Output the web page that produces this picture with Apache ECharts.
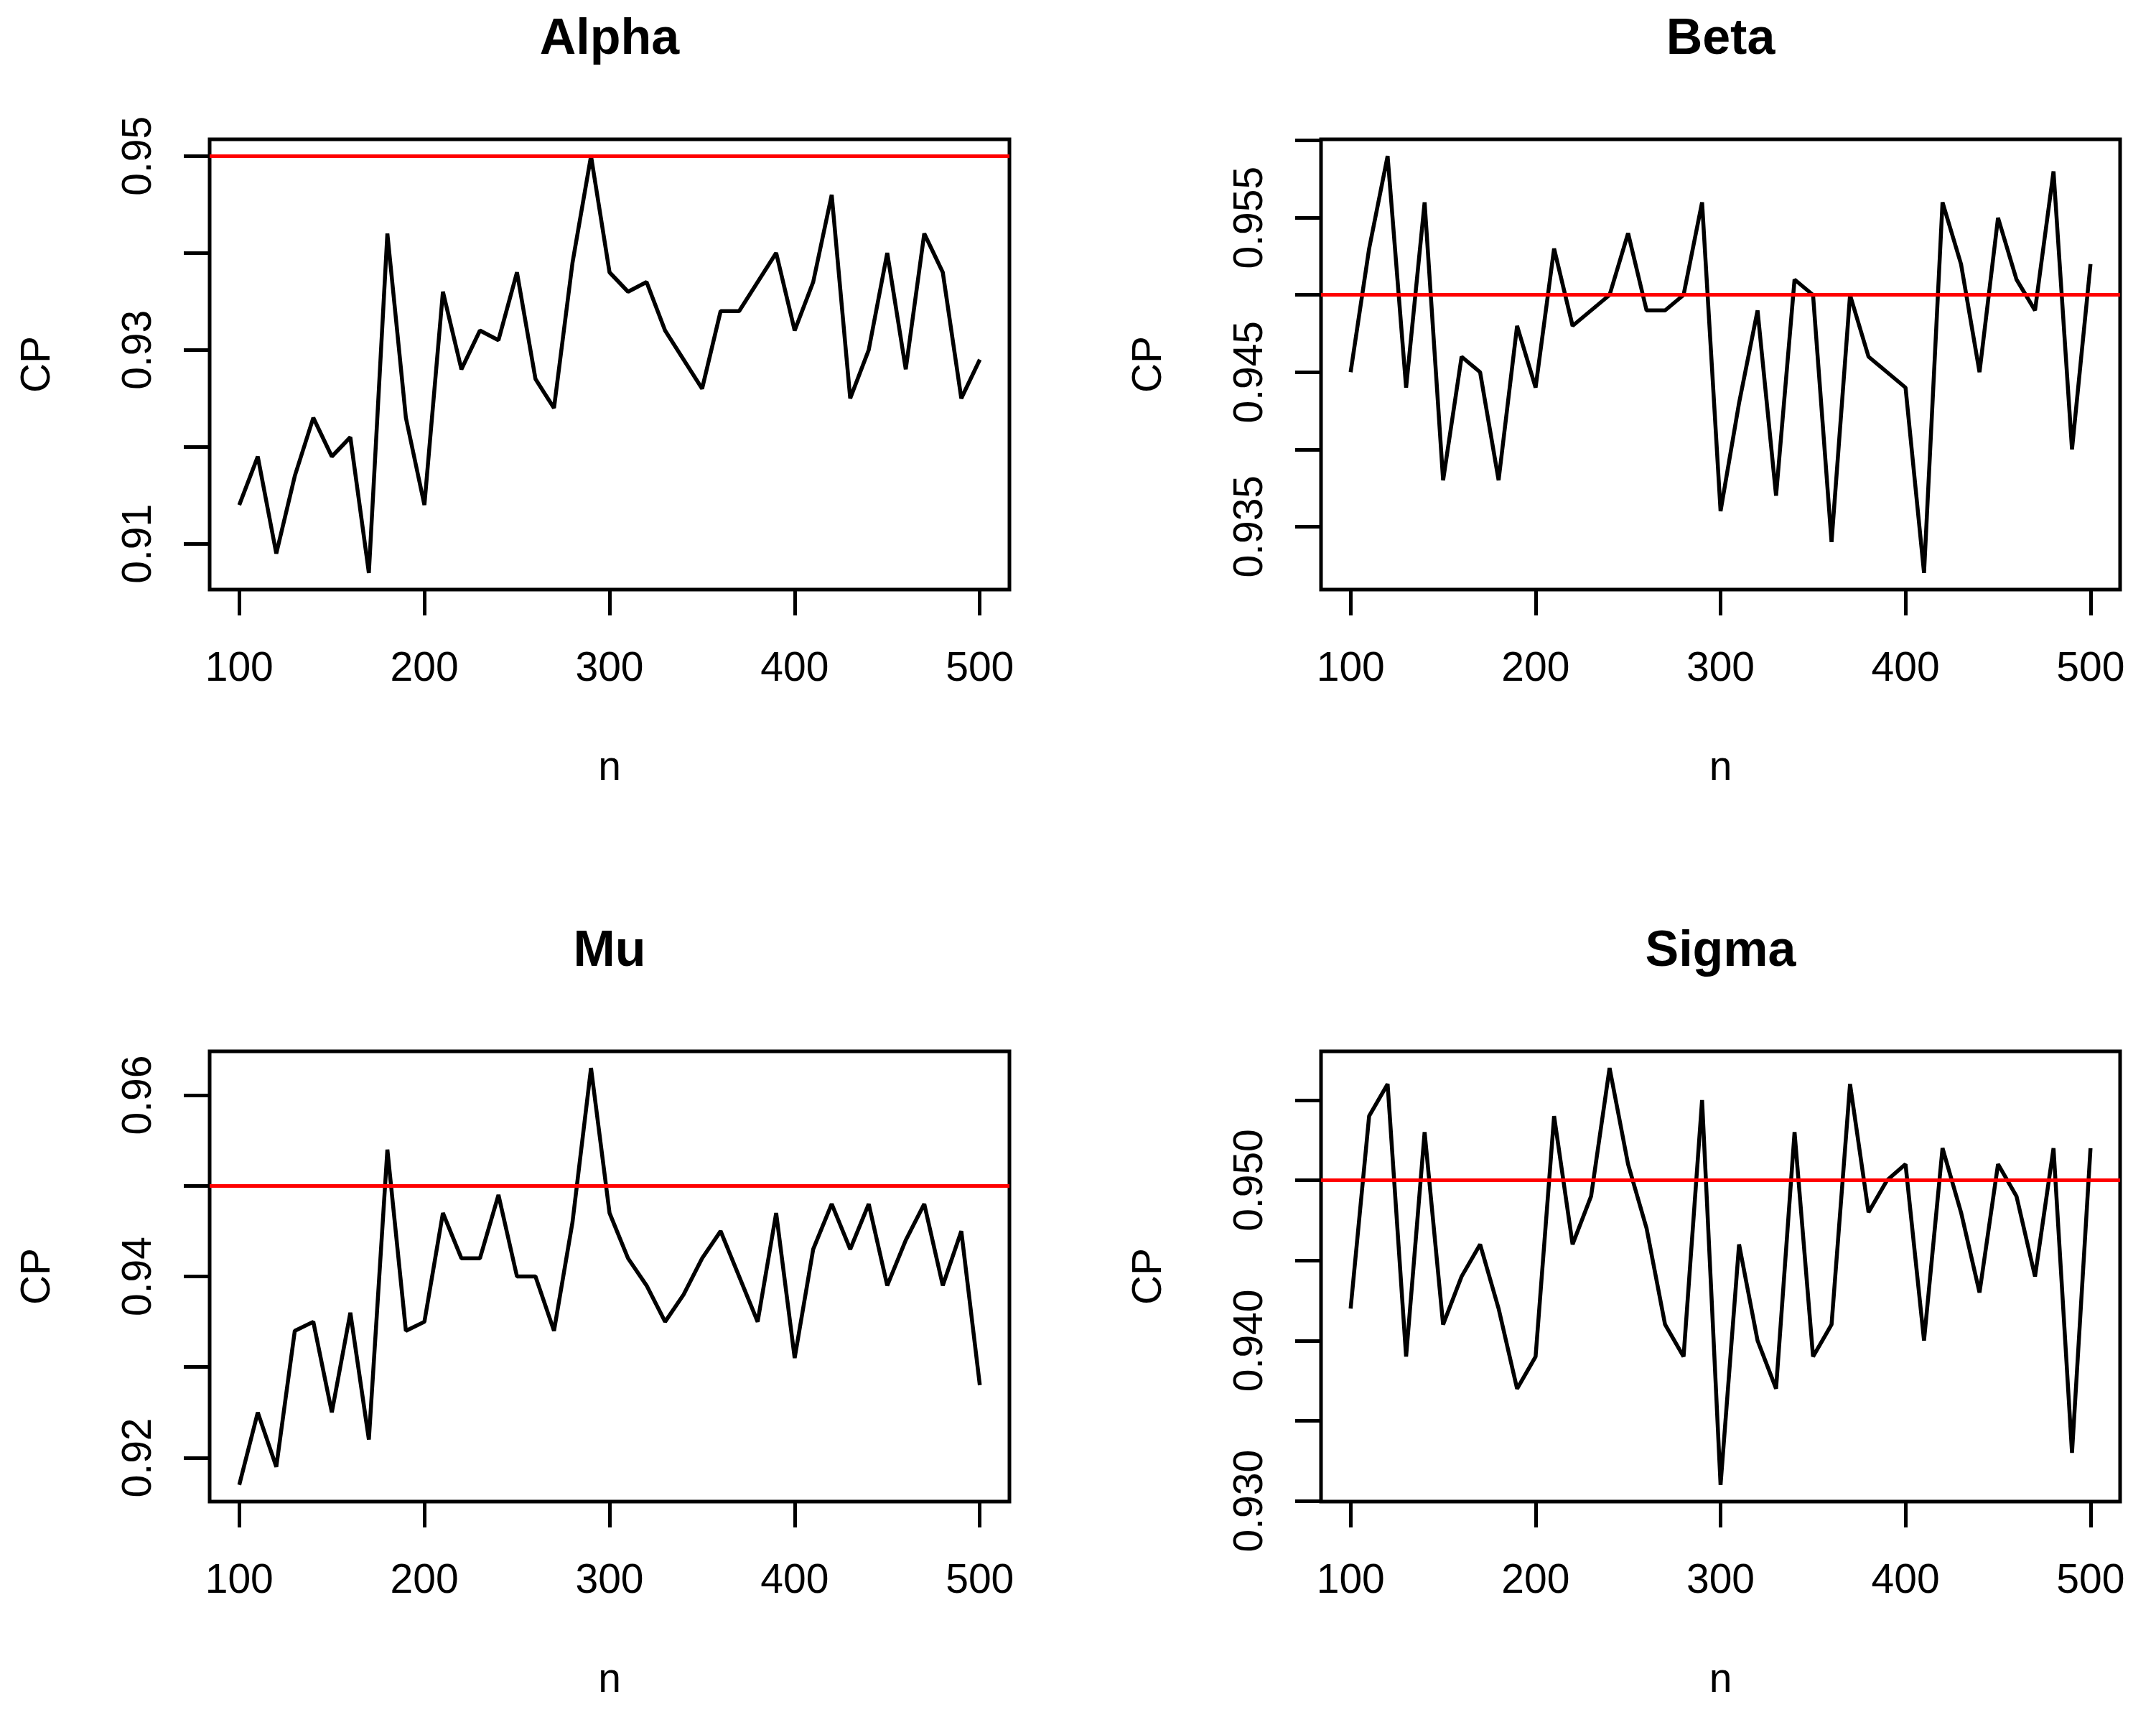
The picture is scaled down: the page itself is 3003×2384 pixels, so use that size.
<!DOCTYPE html>
<html>
<head>
<meta charset="utf-8">
<script src="https://cdn.jsdelivr.net/npm/echarts@6/dist/echarts.min.js"></script>
<style>
html,body{margin:0;padding:0;background:#fff;}
#chart{width:3003px;height:2384px;}
</style>
</head>
<body>
<div id="chart"></div>
<script>
// ---- data ----
const nValues = [100,110,120,130,140,150,160,170,180,190,200,210,220,230,240,250,260,270,280,290,300,
                 310,320,330,340,350,360,370,380,390,400,410,420,430,440,450,460,470,480,490,500];

const alphaCP = [0.914,0.919,0.909,0.917,0.923,0.919,0.921,0.907,0.942,0.923,0.914,0.936,0.928,0.932,0.931,0.938,0.927,0.924,0.939,0.950,0.938,
                 0.936,0.937,0.932,0.929,0.926,0.934,0.934,0.937,0.940,0.932,0.937,0.946,0.925,0.930,0.940,0.928,0.942,0.938,0.925,0.929];
const betaCP  = [0.945,0.953,0.959,0.944,0.956,0.938,0.946,0.945,0.938,0.948,0.944,0.953,0.948,0.949,0.950,0.954,0.949,0.949,0.950,0.956,0.936,
                 0.943,0.949,0.937,0.951,0.950,0.934,0.950,0.946,0.945,0.944,0.932,0.956,0.952,0.945,0.955,0.951,0.949,0.958,0.940,0.952];
const muCP    = [0.917,0.925,0.919,0.934,0.935,0.925,0.936,0.922,0.954,0.934,0.935,0.947,0.942,0.942,0.949,0.940,0.940,0.934,0.946,0.963,0.947,
                 0.942,0.939,0.935,0.938,0.942,0.945,0.940,0.935,0.947,0.931,0.943,0.948,0.943,0.948,0.939,0.944,0.948,0.939,0.945,0.928];
const sigmaCP = [0.942,0.954,0.956,0.939,0.953,0.941,0.944,0.946,0.942,0.937,0.939,0.954,0.946,0.949,0.957,0.951,0.947,0.941,0.939,0.955,0.931,
                 0.946,0.940,0.937,0.953,0.939,0.941,0.956,0.948,0.950,0.951,0.940,0.952,0.948,0.943,0.951,0.949,0.944,0.952,0.933,0.952];

const targetCP = 0.95;

const xTicks = [100,200,300,400,500];
const alphaTicks  = [0.91,0.92,0.93,0.94,0.95];
const alphaLabels = [0.91,0.93,0.95];
const betaTicks   = [0.935,0.94,0.945,0.95,0.955,0.96];
const betaLabels  = [0.935,0.945,0.955];
const muTicks     = [0.92,0.93,0.94,0.95,0.96];
const muLabels    = [0.92,0.94,0.96];
const sigmaTicks  = [0.93,0.935,0.94,0.945,0.95,0.955];
const sigmaLabels = [0.93,0.94,0.95];

const panelTitles = ['Alpha','Beta','Mu','Sigma'];
const xName = 'n';
const yName = 'CP';

// ---- layout ----
const FONT = 'Liberation Sans';
const boxes = [
  {left:292, top:194, width:1114, height:627},
  {left:1840, top:194, width:1113, height:627},
  {left:292, top:1464, width:1114, height:627},
  {left:1840, top:1464, width:1113, height:627}
];
const panels = [
  {values: alphaCP, ticks: alphaTicks, labels: alphaLabels, dec: 2},
  {values: betaCP,  ticks: betaTicks,  labels: betaLabels,  dec: 3},
  {values: muCP,    ticks: muTicks,    labels: muLabels,    dec: 2},
  {values: sigmaCP, ticks: sigmaTicks, labels: sigmaLabels, dec: 3}
];

function rRange(lo, hi){ const d=(hi-lo)*0.04; return [lo-d, hi+d]; }

const xr = rRange(Math.min(...nValues), Math.max(...nValues));

const grid=[], xAxis=[], yAxis=[], series=[], graphic=[];
panels.forEach((p,i)=>{
  const b = boxes[i];
  grid.push({left:b.left, top:b.top, width:b.width, height:b.height, show:true,
             borderColor:'#000', borderWidth:5, backgroundColor:'#fff',
             containLabel:false, outerBoundsMode:'none'});
  xAxis.push({type:'value', gridIndex:i, min:xr[0], max:xr[1],
    name:xName, nameLocation:'middle', nameGap:216,
    nameTextStyle:{fontFamily:FONT, fontSize:57, color:'#000'},
    axisLine:{show:false}, splitLine:{show:false},
    axisTick:{show:true, inside:false, length:36, customValues:xTicks, lineStyle:{color:'#000', width:5}},
    axisLabel:{show:true, margin:78, customValues:xTicks, fontFamily:FONT, fontSize:57, color:'#000'}
  });
  const yr = rRange(Math.min(...p.values), Math.max(...p.values));
  yAxis.push({type:'value', gridIndex:i, min:yr[0], max:yr[1],
    name:yName, nameLocation:'middle', nameGap:215, nameRotate:90,
    nameTextStyle:{fontFamily:FONT, fontSize:57, color:'#000'},
    axisLine:{show:false}, splitLine:{show:false},
    axisTick:{show:true, inside:false, length:36, customValues:p.ticks, lineStyle:{color:'#000', width:5}},
    axisLabel:{show:true, margin:74, rotate:90, customValues:p.labels, fontFamily:FONT, fontSize:57, color:'#000',
      formatter:(v)=>Number(v).toFixed(p.dec)}
  });
  series.push({type:'line', xAxisIndex:i, yAxisIndex:i,
    data: nValues.map((n,k)=>[n, p.values[k]]),
    showSymbol:false, symbol:'none', smooth:false,
    lineStyle:{color:'#000', width:5.5}, itemStyle:{color:'#000'},
    markLine:{silent:true, symbol:['none','none'], label:{show:false},
      lineStyle:{color:'#FF0000', width:5, type:'solid'},
      data:[{yAxis:targetCP}]}
  });
  graphic.push({type:'text', x:b.left + b.width/2, y:b.top - 143,
    style:{text:panelTitles[i], fontFamily:FONT, fontWeight:'bold', fontSize:70, fill:'#000',
           textAlign:'center', textVerticalAlign:'middle'}});
});

const chart = echarts.init(document.getElementById('chart'), null, {renderer:'svg', width:3003, height:2384});
chart.setOption({
  animation:false,
  backgroundColor:'#fff',
  grid, xAxis, yAxis, series, graphic
});
</script>
</body>
</html>
